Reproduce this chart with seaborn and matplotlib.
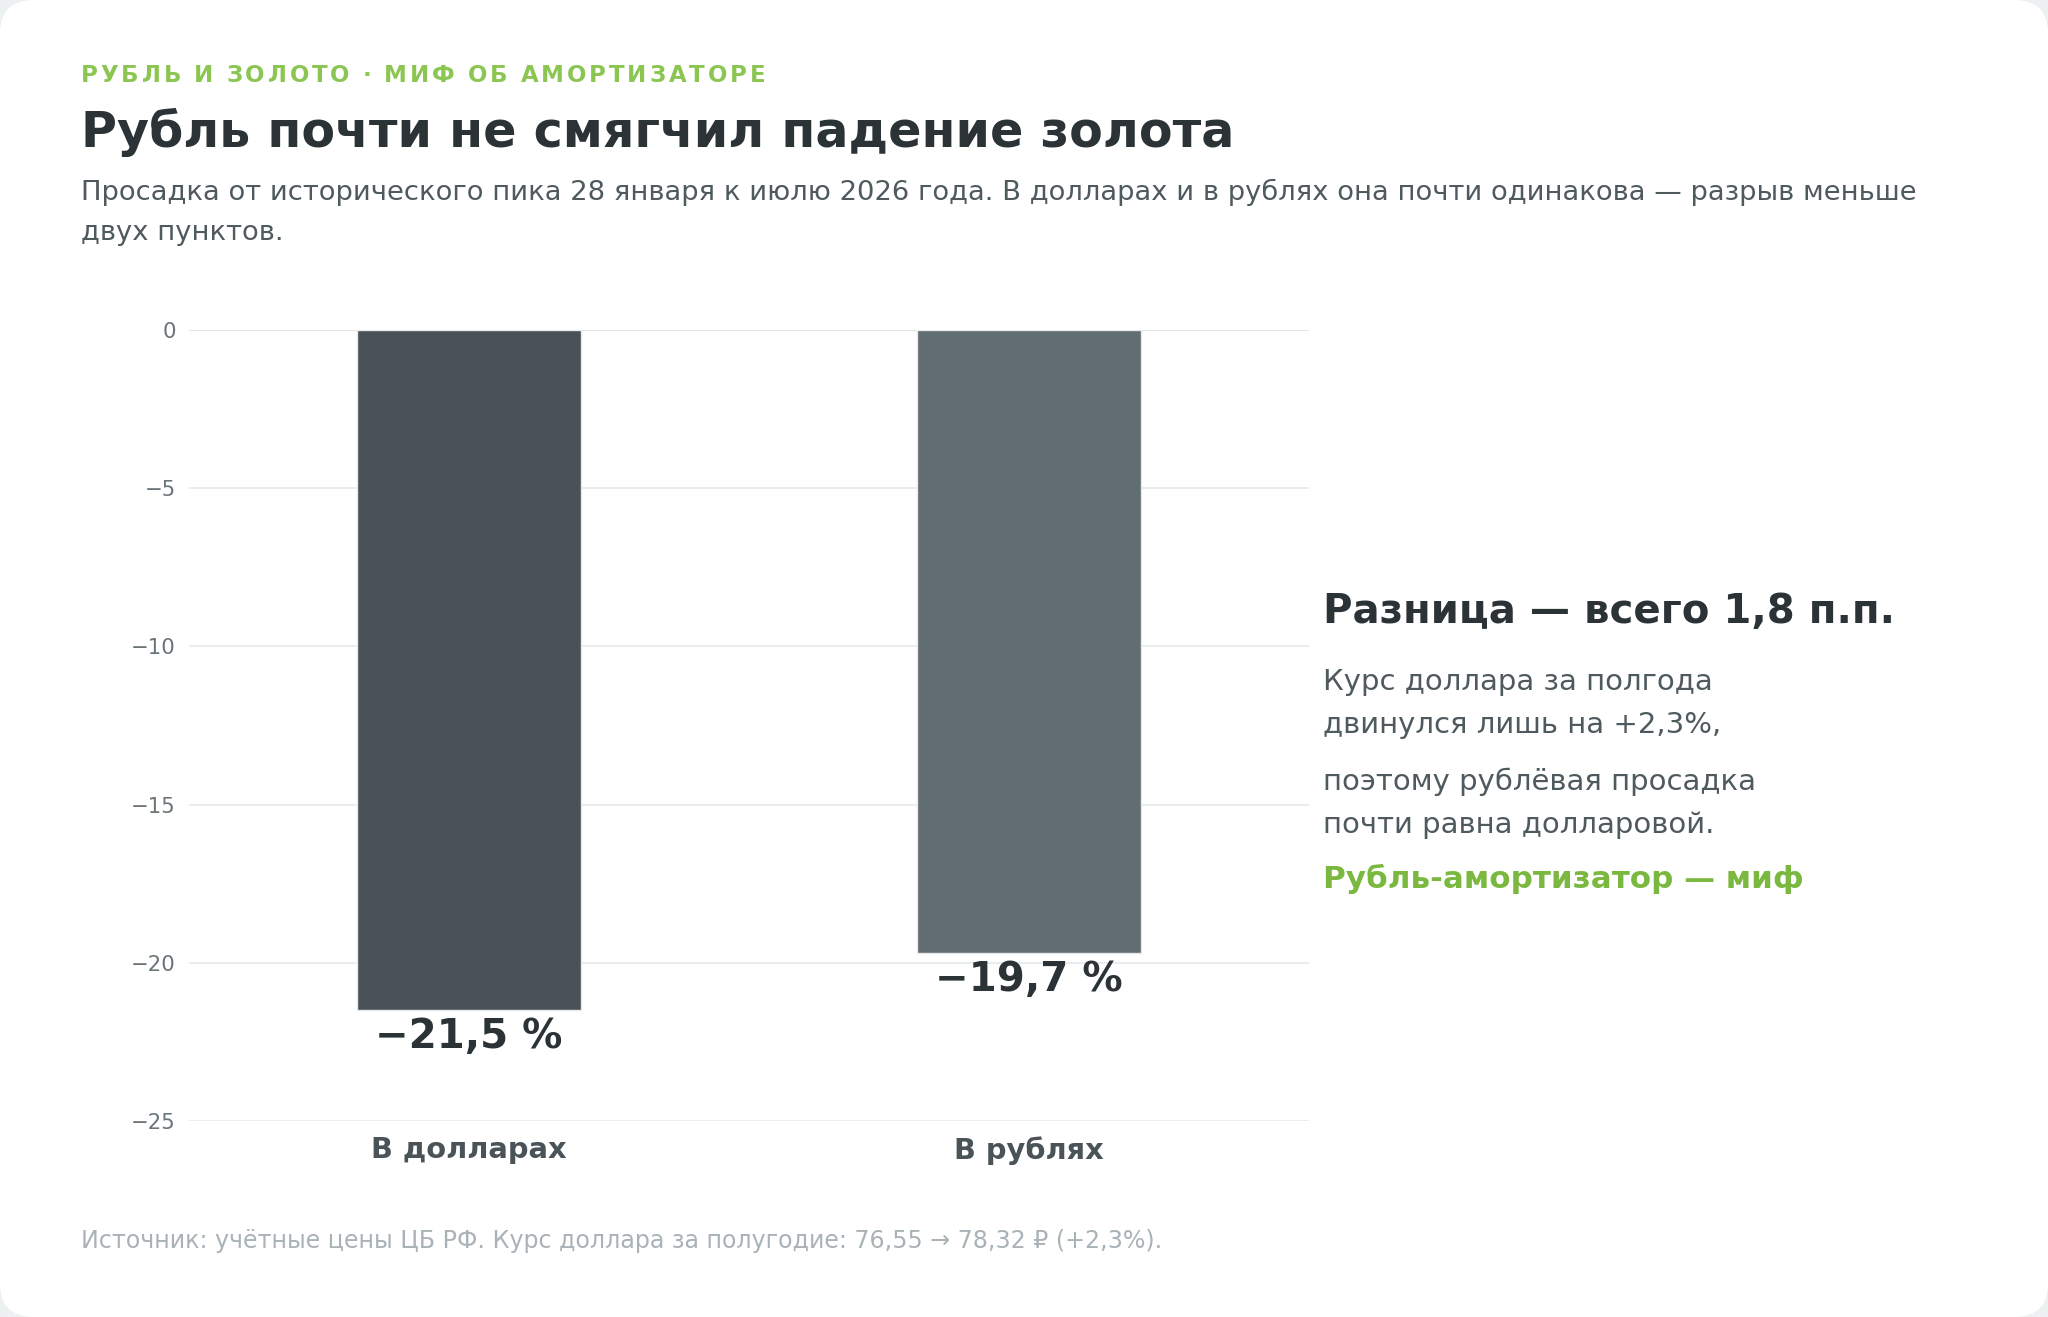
import matplotlib
matplotlib.use("Agg")
import matplotlib.pyplot as plt
import seaborn as sns
import pandas as pd
from matplotlib.patches import FancyBboxPatch
from matplotlib.transforms import IdentityTransform

# ---- data ----
categories = ["В долларах", "В рублях"]
values = [-21.5, -19.7]
value_labels = ["−21,5 %", "−19,7 %"]
bar_colors = ["#4a5258", "#626d72"]
yticks = [0, -5, -10, -15, -20, -25]

eyebrow = "РУБЛЬ И ЗОЛОТО · МИФ ОБ АМОРТИЗАТОРЕ"
title = "Рубль почти не смягчил падение золота"
subtitle_lines = [
    "Просадка от исторического пика 28 января к июлю 2026 года. В долларах и в рублях она почти одинакова — разрыв меньше",
    "двух пунктов.",
]
note_head = "Разница — всего 1,8 п.п."
note_body = [
    "Курс доллара за полгода",
    "двинулся лишь на +2,3%,",
    "поэтому рублёвая просадка",
    "почти равна долларовой.",
]
note_accent = "Рубль-амортизатор — миф"
footer = "Источник: учётные цены ЦБ РФ. Курс доллара за полугодие: 76,55 → 78,32 ₽ (+2,3%)."

sns.set_theme(style="white")
plt.rcParams['font.family'] = ['DejaVu Sans']

W, H = 2048, 1317
DPI = 100
fig = plt.figure(figsize=(W / DPI, H / DPI), dpi=DPI, facecolor="#eef1f2")

card = FancyBboxPatch((0, 0), W, H, boxstyle="round,pad=0,rounding_size=34",
                      transform=IdentityTransform(), facecolor="white",
                      edgecolor="none", zorder=-10)
fig.patches.append(card)


def fy(px):
    return 1 - px / H


def fx(px):
    return px / W


ax = fig.add_axes([fx(189), fy(1121), (1309 - 189) / W, (1121 - 330) / H])
ax.set_facecolor("none")

df = pd.DataFrame({"cat": categories, "val": values})
sns.barplot(data=df, x="cat", y="val", hue="cat", palette=bar_colors,
            saturation=1, width=0.4, legend=False, ax=ax,
            edgecolor="#e6eaec", linewidth=1.0, zorder=3)

ax.set_ylim(-25, 0)
ax.set_xlim(-0.5, 1.5)
ax.set_yticks(yticks)
ax.set_yticklabels([str(t).replace("-", "−") for t in yticks])
ax.yaxis.grid(True, color="#e9edef", linewidth=1.5, zorder=0)
ax.xaxis.grid(False)
for s in ax.spines.values():
    s.set_visible(False)
ax.axhline(0, color="#dfe5e8", linewidth=1.5, zorder=1)
ax.tick_params(axis="y", length=0, pad=9.5, labelsize=15.3, labelcolor="#6b7579")
ax.tick_params(axis="x", length=0, pad=11, labelsize=20.8, labelcolor="#4a5357")
for lab in ax.get_xticklabels():
    lab.set_fontweight("bold")
ax.set_xlabel("")
ax.set_ylabel("")

for i, (v, lab) in enumerate(zip(values, value_labels)):
    ax.annotate(lab, xy=(i, v), xytext=(0, -19.5), textcoords="offset points",
                ha="center", va="center", fontsize=29, fontweight="bold",
                color="#2b3336", zorder=5)

# ---- eyebrow with letter spacing ----
renderer = fig.canvas.get_renderer()
x = 81
spacing = 2.85
for ch in eyebrow:
    t = fig.text(fx(x), fy(82), ch, fontsize=16.5, fontweight="bold",
                 color="#8cc652", ha="left", va="baseline")
    w = t.get_window_extent(renderer=renderer).width
    if ch == " ":
        w = 0.32 * 16.5 * DPI / 72
    x += w + spacing

fig.text(fx(81), fy(147), title, fontsize=35.4, fontweight="bold",
         color="#2b3336", ha="left", va="baseline")
fig.text(fx(81), fy(200), subtitle_lines[0], fontsize=19.7, color="#4f5a5e",
         ha="left", va="baseline")
fig.text(fx(81), fy(240), subtitle_lines[1], fontsize=19.7, color="#4f5a5e",
         ha="left", va="baseline")

fig.text(fx(1323), fy(623), note_head, fontsize=29, fontweight="bold",
         color="#2b3336", ha="left", va="baseline")
for line, base in zip(note_body, [690, 733, 790, 833]):
    fig.text(fx(1323), fy(base), line, fontsize=21, color="#4f5a5e",
             ha="left", va="baseline")
fig.text(fx(1323), fy(888), note_accent, fontsize=22.3, fontweight="bold",
         color="#7ab840", ha="left", va="baseline")

fig.text(fx(81), fy(1248), footer, fontsize=17.1, color="#a9b3b7",
         ha="left", va="baseline")

fig.savefig("out.png", dpi=DPI, facecolor=fig.get_facecolor())
